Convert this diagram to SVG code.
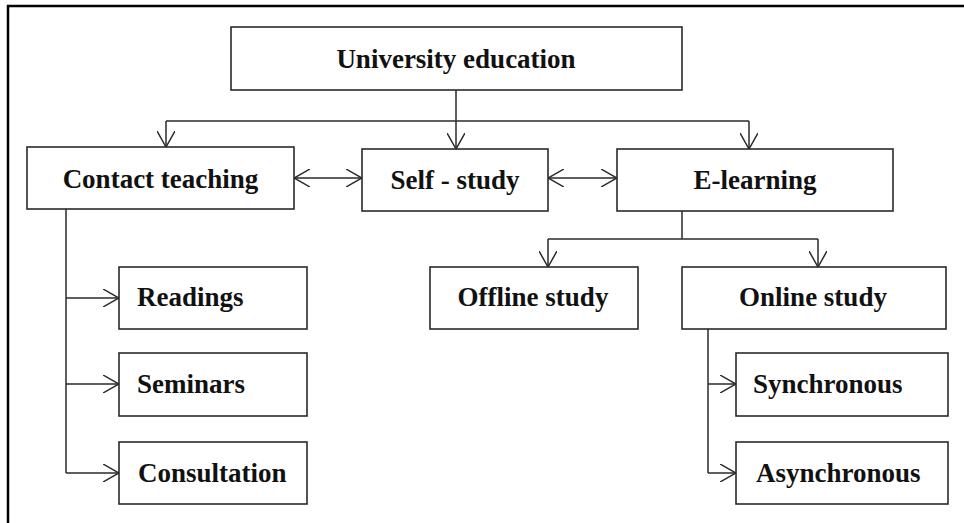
<svg xmlns="http://www.w3.org/2000/svg" width="964" height="523" viewBox="0 0 964 523">
<style>
.box{fill:#fff;stroke:#2a2a2a;stroke-width:1.6}
.t{font-family:"Liberation Serif","Times New Roman",serif;font-weight:bold;font-size:27px;fill:#111}
.c{text-anchor:middle}
.ln{fill:none;stroke:#2a2a2a;stroke-width:1.5}
</style>
<defs>
<marker id="ah" viewBox="0 0 16 18" refX="16" refY="9" markerWidth="16" markerHeight="18" markerUnits="userSpaceOnUse" orient="auto-start-reverse">
<path d="M0,0 L16,9 L0,18" fill="none" stroke="#2a2a2a" stroke-width="1.5"/>
</marker>
</defs>
<rect width="964" height="523" fill="#fff"/>
<g id="frame">
<line x1="7" y1="6" x2="964" y2="6" stroke="#000" stroke-width="2.5"/>
<line x1="8" y1="5" x2="8" y2="523" stroke="#000" stroke-width="2.5"/>
</g>
<g id="connectors" class="ln">
<line x1="456" y1="90" x2="456" y2="121"/>
<line x1="166" y1="121" x2="749" y2="121"/>
<line x1="166" y1="121" x2="166" y2="147" marker-end="url(#ah)"/>
<line x1="456" y1="121" x2="456" y2="149" marker-end="url(#ah)"/>
<line x1="749" y1="121" x2="749" y2="149" marker-end="url(#ah)"/>
<line x1="294" y1="178" x2="362" y2="178" marker-start="url(#ah)" marker-end="url(#ah)"/>
<line x1="548" y1="178" x2="617" y2="178" marker-start="url(#ah)" marker-end="url(#ah)"/>
<line x1="682" y1="211" x2="682" y2="239"/>
<line x1="548" y1="239" x2="818" y2="239"/>
<line x1="548" y1="239" x2="548" y2="267" marker-end="url(#ah)"/>
<line x1="818" y1="239" x2="818" y2="267" marker-end="url(#ah)"/>
<line x1="66" y1="209" x2="66" y2="473"/>
<line x1="66" y1="298" x2="119" y2="298" marker-end="url(#ah)"/>
<line x1="66" y1="384" x2="119" y2="384" marker-end="url(#ah)"/>
<line x1="66" y1="473" x2="119" y2="473" marker-end="url(#ah)"/>
<line x1="708" y1="329" x2="708" y2="473"/>
<line x1="708" y1="384" x2="736" y2="384" marker-end="url(#ah)"/>
<line x1="708" y1="473" x2="736" y2="473" marker-end="url(#ah)"/>
</g>
<g id="university"><rect class="box" x="231" y="27" width="451" height="63"/><text class="t c" x="456" y="68">University education</text></g>
<g id="contact"><rect class="box" x="27" y="147" width="267" height="62"/><text class="t c" x="160.5" y="188">Contact teaching</text></g>
<g id="selfstudy"><rect class="box" x="362" y="149" width="186" height="62"/><text class="t c" x="455" y="189">Self - study</text></g>
<g id="elearning"><rect class="box" x="617" y="149" width="276" height="62"/><text class="t c" x="755" y="189">E-learning</text></g>
<g id="readings"><rect class="box" x="119" y="267" width="188" height="62"/><text class="t" x="137" y="306">Readings</text></g>
<g id="seminars"><rect class="box" x="119" y="353" width="188" height="63"/><text class="t" x="137" y="393">Seminars</text></g>
<g id="consultation"><rect class="box" x="119" y="442" width="188" height="62"/><text class="t" x="138" y="482">Consultation</text></g>
<g id="offline"><rect class="box" x="430" y="267" width="208" height="62"/><text class="t c" x="533" y="306">Offline study</text></g>
<g id="online"><rect class="box" x="682" y="267" width="264" height="62"/><text class="t c" x="813" y="306">Online study</text></g>
<g id="synchronous"><rect class="box" x="736" y="353" width="212" height="63"/><text class="t" x="753" y="393">Synchronous</text></g>
<g id="asynchronous"><rect class="box" x="736" y="442" width="212" height="62"/><text class="t" x="756" y="482">Asynchronous</text></g>
</svg>
